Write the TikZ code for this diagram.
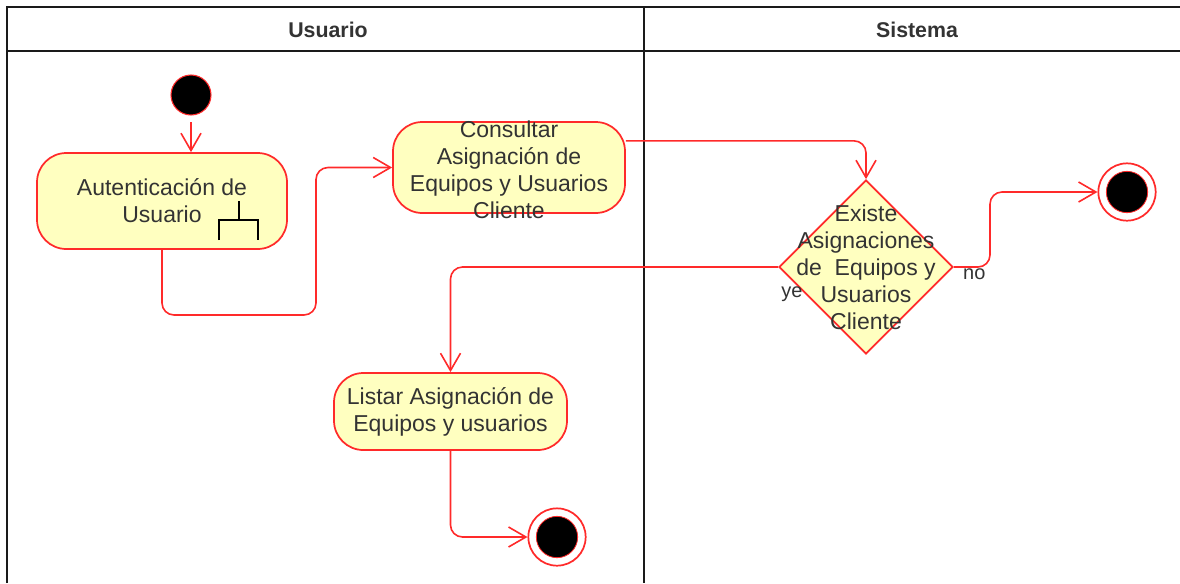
\documentclass[tikz,border=0pt]{standalone}
\usepackage{fontspec}
\setmainfont{Liberation Sans}
\usepackage{xcolor}
\usepackage{tikz}
\usetikzlibrary{positioning,arrows.meta,shapes.geometric,calc}
\definecolor{umlred}{HTML}{FF2A2A}
\definecolor{umlfill}{HTML}{FFFFC0}
\definecolor{textgray}{HTML}{333333}
\definecolor{lanegray}{HTML}{1A1A1A}

\begin{document}
\begin{tikzpicture}[
  x=0.75pt,y=-0.75pt,
  act/.style={draw=umlred,fill=umlfill,line width=1.3pt,rounded corners=22pt,align=center,text=textgray,font=\fontsize{17.25}{20.25}\selectfont,inner sep=0pt},
  dec/.style={draw=umlred,fill=umlfill,line width=1.3pt,diamond,inner sep=0pt,minimum width=130.5pt,minimum height=130.5pt},
  txt/.style={align=center,text=textgray,font=\fontsize{17.25}{20.25}\selectfont,inner sep=0pt},
  start/.style={circle,draw=umlred,fill=black,line width=0.8pt,minimum size=30pt,inner sep=0pt},
  endring/.style={circle,draw=umlred,fill=white,line width=1.3pt,minimum size=43pt,inner sep=0pt},
  enddot/.style={circle,draw=umlred,fill=black,line width=0.6pt,minimum size=31pt,inner sep=0pt},
  lane/.style={draw=lanegray,line width=1.5pt},
  head/.style={text=textgray,font=\bfseries\fontsize{16}{19}\selectfont},
  lbl/.style={text=textgray,font=\fontsize{15}{18}\selectfont,inner sep=1pt},
  arr/.style={-{Straight Barb[length=13pt,width=15pt]},draw=umlred,line width=1.2pt,rounded corners=9pt},
  fork/.style={draw=black,line width=1.3pt}
]
  \useasboundingbox (0,0) rectangle (1180,583);
  \draw[lane] (7,583) -- (7,7) -- (1180,7);
  \draw[lane] (7,51) -- (1180,51);
  \draw[lane] (644,7) -- (644,583);
  \node[head] (hUsu) at (328,30) {Usuario};
  \node[head] (hSis) at (917,30) {Sistema};

  \node[start] (init) at (191,95) {};
  \node[act,minimum width=187.5pt,minimum height=72pt] (auth) at (162,201) {Autenticación de\\Usuario};
  \draw[fork] (239,201) -- (239,220) (219,240) -- (219,220) -- (258,220) -- (258,240);
  \node[act,minimum width=174pt,minimum height=68.25pt] (cons) at (509,167.5) {};
  \node[txt] (consT) at (509,170) {Consultar\\Asignación de\\Equipos y Usuarios\\Cliente};
  \node[dec] (dec) at (866,267) {};
  \node[txt] (decT) at (866,267.5) {Existe\\Asignaciones\\de\ \ Equipos y\\Usuarios\\Cliente};
  \node[act,minimum width=174.75pt,minimum height=57.75pt] (list) at (450.5,411.5) {Listar Asignación de\\Equipos y usuarios};
  \node[endring] (fin1) at (1127,192) {};
  \node[enddot] (fin1dot) at (fin1) {};
  \node[endring] (fin2) at (557,537) {};
  \node[enddot] (fin2dot) at (fin2) {};

  \coordinate (bendA) at (316,315);
  \coordinate (bendB) at (990,267);
  \draw[arr,shorten <=5pt] (init) -- (init |- auth.north);
  \draw[arr] (auth.south) |- (bendA) |- (cons.west);
  \draw[arr] ([yshift=20pt]cons.east) -| (dec.north);
  \draw[arr] (dec.west) -| (list.north);
  \draw[arr] (dec.east) -- (bendB) |- (fin1.west);
  \draw[arr] (list.south) |- (fin2.west);
  \node[lbl,anchor=base west] (yes) at ([xshift=1.25pt,yshift=-23pt]dec.west) {ye};
  \node[lbl,anchor=base west] (no) at ([xshift=5.75pt,yshift=-9pt]dec.east) {no};
\end{tikzpicture}
\end{document}
